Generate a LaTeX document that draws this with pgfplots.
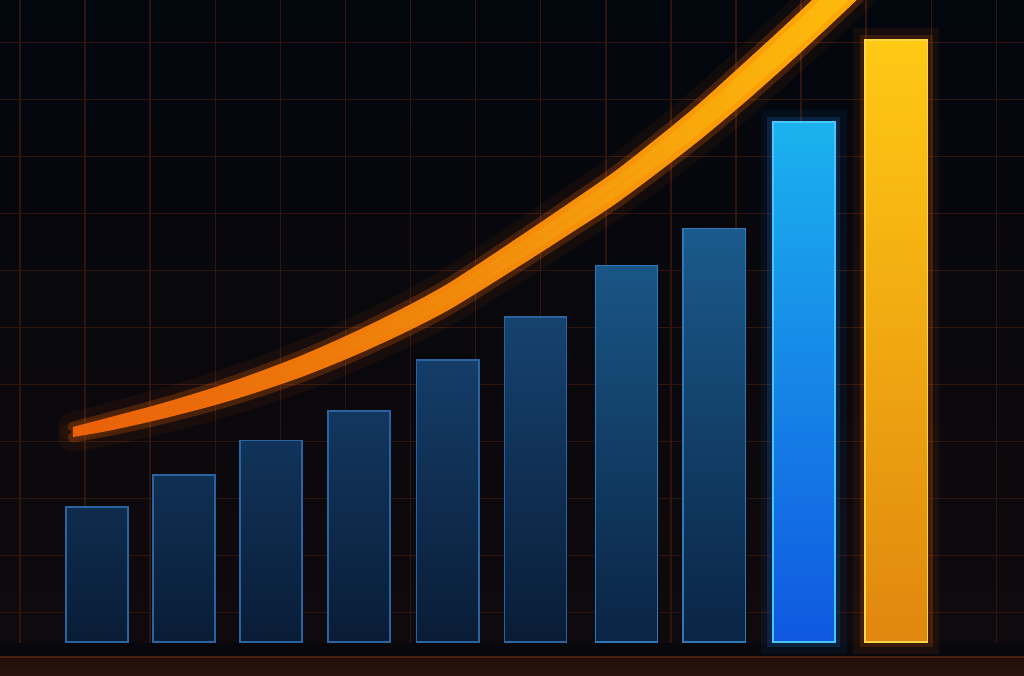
\documentclass[border=0pt]{standalone}
\usepackage{pgfplots}
\pgfplotsset{compat=1.18}
\usepackage{pgfplotstable}
\usepgfplotslibrary{fillbetween}

\definecolor{bgtop}{HTML}{02060D}
\definecolor{bgbot}{HTML}{100A0D}
\definecolor{gridred}{HTML}{30150F}
\definecolor{floordark}{HTML}{08080C}
\definecolor{floortop}{HTML}{1F0E0A}
\definecolor{floorbot}{HTML}{2B140D}
\definecolor{floorline}{HTML}{4A2013}
\definecolor{barAtop}{HTML}{164270}
\definecolor{barAbot}{HTML}{091C36}
\definecolor{barAedge}{HTML}{2A64A0}
\definecolor{barBtop}{HTML}{1A5A8C}
\definecolor{barBbot}{HTML}{0A2444}
\definecolor{barBedge}{HTML}{2F78B8}
\definecolor{blueTop}{HTML}{1BB2EE}
\definecolor{blueBot}{HTML}{1058E0}
\definecolor{blueEdge}{HTML}{45C6FF}
\definecolor{goldTop}{HTML}{FFC914}
\definecolor{goldBot}{HTML}{E0870F}
\definecolor{goldEdge}{HTML}{FFD54A}
\definecolor{curveL}{HTML}{E35E0E}
\definecolor{curveM}{HTML}{FF9C12}
\definecolor{curveR}{HTML}{FFC40C}
\definecolor{glow}{HTML}{FF6A00}
\definecolor{glowblue}{HTML}{1E8CFF}

% trend band: x, upper edge, lower edge
\pgfplotstableread{
x      up      lo
0.730  37.74   35.95
1.146  39.43   37.10
1.709  41.78   39.06
2.273  44.43   41.32
2.723  46.83   43.41
3.286  50.17   46.39
3.849  54.03   49.90
4.412  58.30   53.88
4.975  63.10   58.38
5.764  71.19   66.01
6.327  77.13   71.64
6.890  83.27   77.43
7.678  93.11   86.71
8.241  100.95  93.97
8.804  108.98  101.72
9.367  117.35  109.85
9.818  124.19  116.61
}\curve

\begin{document}
\begin{tikzpicture}
\begin{axis}[
  scale only axis,
  width=768pt, height=506.25pt,
  xmin=-0.092, xmax=11.439,
  ymin=-5.79, ymax=112.63,
  axis line style={draw=none},
  major tick length=0pt,
  xtick={0.133,0.866,...,11.2},
  ytick={5.2,15.2,...,106},
  xticklabels={}, yticklabels={},
  grid=major,
  major grid style={gridred, line width=1.1pt},
  axis background/.style={shade, top color=bgtop, bottom color=bgbot},
]
% floor
\addplot[draw=none, fill=floordark] coordinates {(-0.2,-0.1) (11.6,-0.1) (11.6,-2.63) (-0.2,-2.63)} -- cycle;
\addplot[draw=none, shade, top color=floortop, bottom color=floorbot] coordinates {(-0.2,-2.63) (11.6,-2.63) (11.6,-6) (-0.2,-6)} -- cycle;
\addplot[floorline, line width=1.2pt] coordinates {(-0.2,-2.63) (11.6,-2.63)};

% glows behind the two highlighted bars
\addplot[ybar, bar width=0.7, bar shift=0pt, fill=none, draw=glowblue, line width=18pt, draw opacity=0.06] coordinates {(8.96,91.2)};
\addplot[ybar, bar width=0.7, bar shift=0pt, fill=none, draw=glowblue, line width=8pt, draw opacity=0.16] coordinates {(8.96,91.2)};
\addplot[ybar, bar width=0.7, bar shift=0pt, fill=none, draw=glow, line width=18pt, draw opacity=0.07] coordinates {(10,105.6)};
\addplot[ybar, bar width=0.7, bar shift=0pt, fill=none, draw=glow, line width=8pt, draw opacity=0.15] coordinates {(10,105.6)};

% bars
\addplot[ybar, bar width=0.7, bar shift=0pt, draw=barAedge, line width=1pt, shade, top color=barAtop, bottom color=barAbot]
  coordinates {(1,23.7) (1.98,29.3) (2.96,35.3) (3.95,40.5) (4.95,49.5) (5.94,57.0)};
\addplot[ybar, bar width=0.7, bar shift=0pt, draw=barBedge, line width=1pt, shade, top color=barBtop, bottom color=barBbot]
  coordinates {(6.96,66.1) (7.95,72.5)};
\addplot[ybar, bar width=0.7, bar shift=0pt, draw=blueEdge, line width=1.2pt, shade, top color=blueTop, bottom color=blueBot]
  coordinates {(8.96,91.2)};
\addplot[ybar, bar width=0.7, bar shift=0pt, draw=goldEdge, line width=1.2pt, shade, top color=goldTop, bottom color=goldBot]
  coordinates {(10,105.6)};

% trend band with glow
\addplot[smooth, draw=glow, line width=22pt, opacity=0.06, line cap=round] table[x=x, y=up] {\curve};
\addplot[smooth, draw=glow, line width=22pt, opacity=0.06, line cap=round] table[x=x, y=lo] {\curve};
\addplot[smooth, draw=glow, line width=8pt, opacity=0.22, line cap=round] table[x=x, y=up] {\curve};
\addplot[smooth, draw=glow, line width=8pt, opacity=0.22, line cap=round] table[x=x, y=lo] {\curve};
\addplot[name path=upper, draw=none, smooth] table[x=x, y=up] {\curve};
\addplot[name path=lower, draw=none, smooth] table[x=x, y=lo] {\curve};
\addplot[shade, left color=curveL, middle color=curveM, right color=curveR] fill between[of=upper and lower];
\end{axis}
\pgfresetboundingbox
\path (current axis.south west) rectangle (current axis.north east);
\end{tikzpicture}
\end{document}
